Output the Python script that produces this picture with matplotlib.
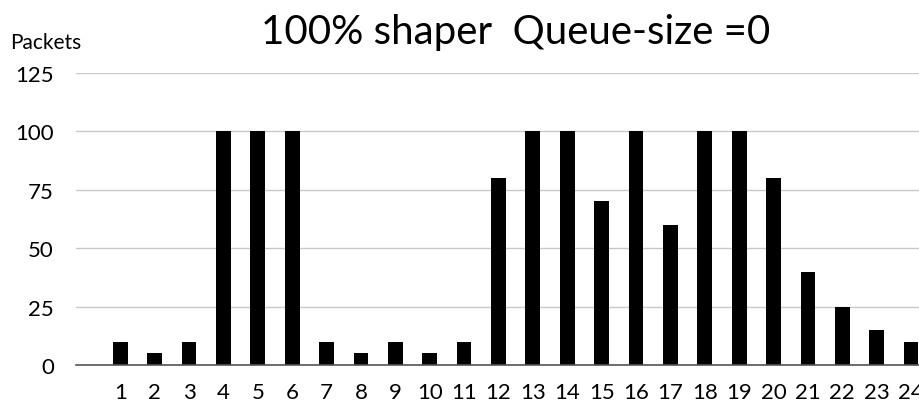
import matplotlib.pyplot as plt

# packets per time slot
slots = list(range(1, 25))
packets = [10, 5, 10, 100, 100, 100, 10, 5, 10, 5, 10, 80,
           100, 100, 70, 100, 60, 100, 100, 80, 40, 25, 15, 10]
y_ticks = [0, 25, 50, 75, 100, 125]

plt.rcParams['font.family'] = ['Lato', 'DejaVu Sans']

fig = plt.figure(figsize=(9.2, 4.1), dpi=100)
ax = fig.add_axes([0.0826, 0.1073, 0.9174, 0.7122])

ax.bar(slots, packets, width=0.43, color='black', zorder=3)

ax.set_xlim(-0.286, 24.26)
ax.set_ylim(0, 125)
ax.set_yticks(y_ticks)
ax.set_xticks(slots)
ax.set_xticklabels([str(s) for s in slots])
ax.yaxis.grid(True, color='#c8c8c8', linewidth=1, zorder=0)
ax.tick_params(axis='both', length=0, labelsize=16)
ax.tick_params(axis='x', pad=12)
ax.tick_params(axis='y', pad=16)

for s in ['top', 'right', 'left']:
    ax.spines[s].set_visible(False)
ax.spines['bottom'].set_color('#555555')
ax.spines['bottom'].set_linewidth(1.2)
ax.spines['bottom'].set_zorder(4)

fig.text(0.56, 0.92, '100% shaper  Queue-size =0', ha='center', va='center', fontsize=29)
fig.text(0.011, 0.895, 'Packets', ha='left', va='center', fontsize=15)

fig.savefig('out.png', dpi=100)
